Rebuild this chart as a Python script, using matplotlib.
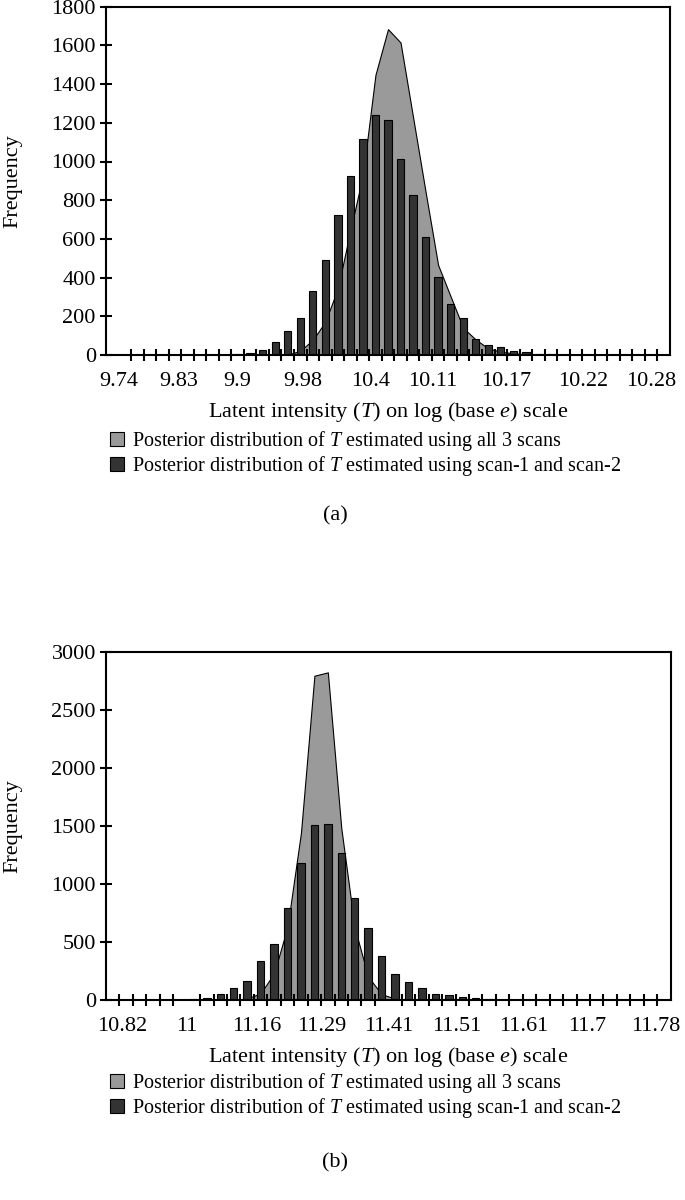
import numpy as np
import matplotlib
matplotlib.use('Agg')
import matplotlib.pyplot as plt
from matplotlib.patches import Patch

plt.rcParams['font.family'] = 'Liberation Serif'
plt.rcParams['mathtext.fontset'] = 'custom'
plt.rcParams['mathtext.rm'] = 'Liberation Serif'
plt.rcParams['mathtext.it'] = 'Liberation Serif:italic'
plt.rcParams['axes.linewidth'] = 1.5

# Panel (a): frequencies per category (45 bins)
a_all_scans = [0, 0, 0, 0, 0, 0, 0, 0, 0, 0,
               0, 0, 0, 0, 2, 22, 78, 172, 345, 645,
               930, 1448, 1684, 1615, 1229, 843, 465, 302, 140, 80,
               34, 17, 9, 4, 2, 1, 0, 0, 0, 0,
               0, 0, 0, 0, 0]
a_scan12 = [0, 0, 0, 0, 0, 0, 0, 0, 0, 1,
            3, 12, 26, 65, 122, 193, 333, 493, 721, 924,
            1114, 1238, 1217, 1012, 828, 610, 405, 265, 193, 83,
            52, 40, 21, 14, 7, 3, 1, 0, 0, 0,
            0, 0, 0, 0, 0]
a_tick_labels = ['9.74', '9.83', '9.9', '9.98', '10.4', '10.11', '10.17', '10.22', '10.28']

# Panel (b): frequencies per category (42 bins)
b_all_scans = [0, 0, 0, 0, 0, 0, 0, 0, 0, 0,
               14, 57, 230, 630, 1440, 2793, 2822, 1480, 620, 200,
               50, 12, 0, 0, 0, 0, 0, 0, 0, 0,
               0, 0, 0, 0, 0, 0, 0, 0, 0, 0,
               0, 0]
b_scan12 = [0, 0, 0, 0, 0, 0, 5, 14, 55, 100,
            167, 338, 486, 796, 1178, 1506, 1518, 1270, 877, 616,
            379, 224, 152, 100, 49, 40, 29, 17, 9, 2,
            0, 0, 0, 0, 0, 0, 0, 0, 0, 0,
            0, 0]
b_tick_labels = ['10.82', '11', '11.16', '11.29', '11.41', '11.51', '11.61', '11.7', '11.78']

legend_labels = ['Posterior distribution of $T$ estimated using all 3 scans',
                 'Posterior distribution of $T$ estimated using scan-1 and scan-2']

# where the (unevenly placed) tick labels sit, in category units
a_label_at = [0.5, 5.3, 10.0, 15.2, 20.6, 25.6, 31.4, 37.6, 43.0]
b_label_at = [0.7, 5.5, 10.7, 15.55, 20.5, 25.6, 30.6, 35.3, 40.35]

LIGHT = '#9a9a9a'
DARK = '#333333'
FS = 16
LEG_FS = 14.5


def draw_panel(ax, all_scans, scan12, ymax, ystep, labels, label_at, bar_w):
    n = len(all_scans)
    x = np.arange(n)
    ax.fill_between(x, 0, all_scans, facecolor=LIGHT, edgecolor='black',
                    linewidth=0.8, zorder=1)
    ax.bar(x, scan12, width=bar_w, color=DARK, edgecolor='black',
           linewidth=0.8, zorder=2)
    ax.set_xlim(-0.5, n - 0.5)
    ax.set_ylim(0, ymax)
    ax.set_yticks(np.arange(0, ymax + 1, ystep))
    ax.set_xticks(label_at)
    ax.set_xticklabels(labels)
    ax.set_xticks(np.arange(0.5, n - 1, 1.0), minor=True)
    ax.tick_params(axis='x', which='major', length=0, pad=12, labelsize=FS)
    ax.tick_params(axis='x', which='minor', direction='inout', length=8, width=1.5)
    ax.tick_params(axis='y', direction='inout', length=8.6, width=1.5,
                   pad=3, labelsize=FS)
    ax.set_xlabel('Latent intensity ($T$) on log (base $e$) scale', fontsize=FS,
                  labelpad=7)
    ax.set_ylabel('Frequency', fontsize=FS)
    ax.yaxis.set_label_coords(-0.148, 0.5)


fig = plt.figure(figsize=(6.85, 12), dpi=100)
ax1 = fig.add_axes([106 / 685, 1 - 355 / 1200, 564 / 685, 348.3 / 1200])
ax2 = fig.add_axes([106 / 685, 1 - 1000 / 1200, 564.7 / 685, 348.3 / 1200])

draw_panel(ax1, a_all_scans, a_scan12, 1800, 200, a_tick_labels, a_label_at, 0.58)
draw_panel(ax2, b_all_scans, b_scan12, 3000, 500, b_tick_labels, b_label_at, 0.55)

handles = [Patch(facecolor=LIGHT, edgecolor='black', linewidth=0.8),
           Patch(facecolor=DARK, edgecolor='black', linewidth=0.8)]

for top_px, caption, cap_px in [(429, '(a)', 516), (1071, '(b)', 1163)]:
    fig.legend(handles, legend_labels, loc='upper left',
               bbox_to_anchor=(110 / 685, 1 - top_px / 1200), frameon=False,
               fontsize=LEG_FS, handlelength=0.7, handleheight=0.7,
               handletextpad=0.4, labelspacing=0.05, borderpad=0,
               borderaxespad=0)
    fig.text(335 / 685, 1 - cap_px / 1200, caption, ha='center', va='center',
             fontsize=FS)

fig.savefig('out.png', dpi=100)
